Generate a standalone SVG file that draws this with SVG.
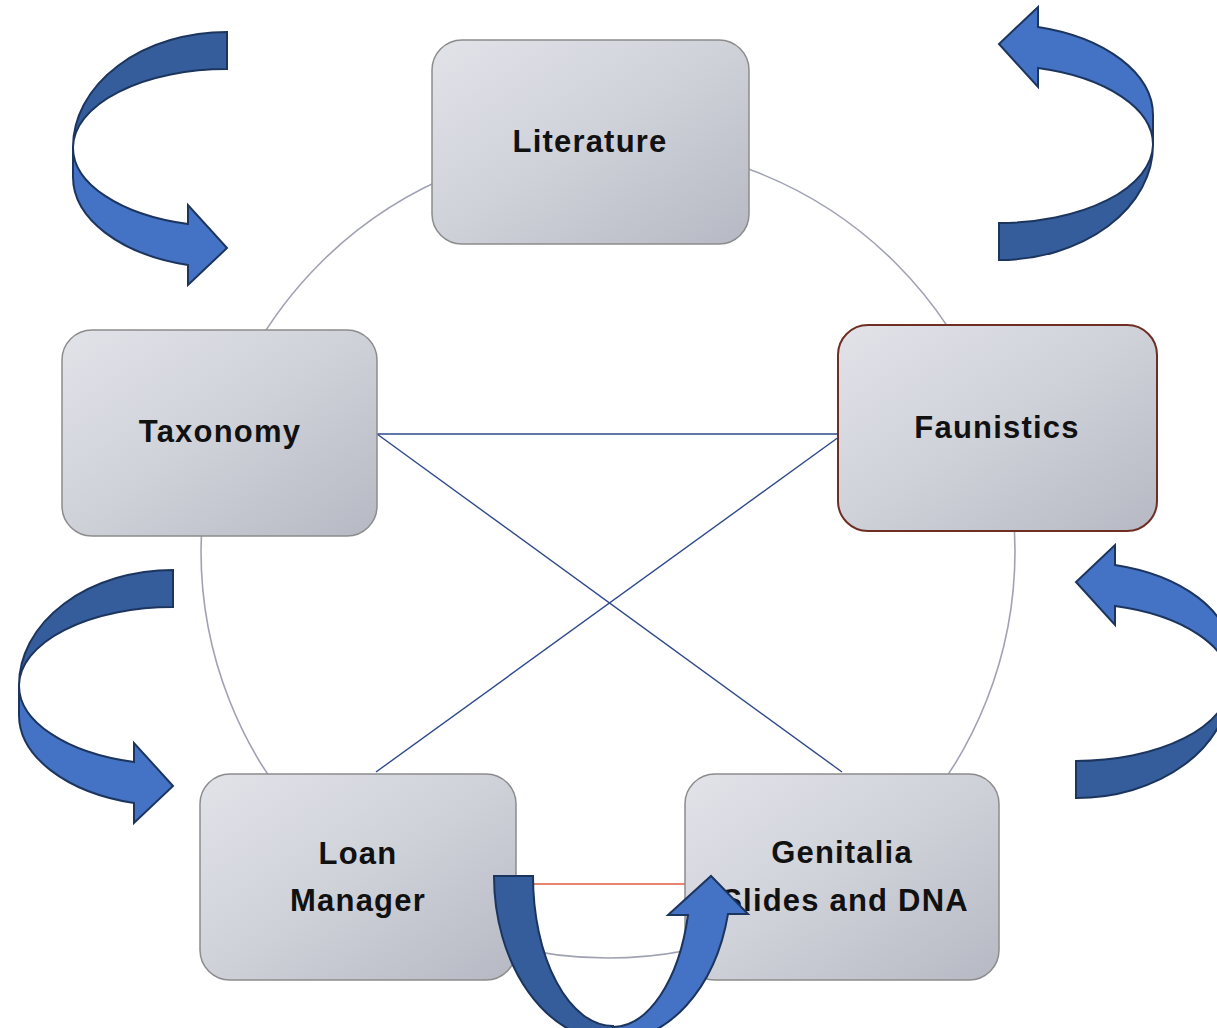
<svg xmlns="http://www.w3.org/2000/svg" xmlns:xlink="http://www.w3.org/1999/xlink" width="1217" height="1028" viewBox="0 0 1217 1028">
<style>
.node rect{fill:url(#ng);stroke:#8c8c8c;stroke-width:1.5}
.node text{font-family:"Liberation Sans",Arial,sans-serif;font-weight:bold;font-size:31px;letter-spacing:1.2px;fill:#111;text-anchor:middle}
.ring{fill:none;stroke:#a0a2b4;stroke-width:1.6}
.cross{stroke:#2f4a8c;stroke-width:1.4}
.red{stroke:#e9826e;stroke-width:2}
.dk{fill:#355d9c;stroke:#1c355e;stroke-width:2;stroke-linejoin:miter}
.lt{fill:#4472c4;stroke:#1c355e;stroke-width:2;stroke-linejoin:miter}
</style>
<defs>
<linearGradient id="ng" x1="0" y1="0" x2="1" y2="1">
<stop offset="0" stop-color="#e2e3e9"/>
<stop offset="0.5" stop-color="#cfd1d9"/>
<stop offset="1" stop-color="#b6b9c3"/>
</linearGradient>
<g id="carrow">
<path class="lt" d="M73,147 A154,79 0 0 0 188,224 L188,205 L227,248 L188,285 L188,265 A154,91 0 0 1 73,177 Z"/>
<path class="dk" d="M227,32 A154,115 0 0 0 73,147 A154,79 0 0 1 227,69 Z"/>
</g>
</defs>
<rect width="1217" height="1028" fill="#fff"/>
<g id="connectors">
<circle class="ring" cx="608" cy="551" r="407"/>
<line class="cross" x1="377" y1="434" x2="843" y2="434"/>
<line class="cross" x1="377" y1="434" x2="842" y2="772"/>
<line class="cross" x1="843" y1="434" x2="376" y2="772"/>
<line class="red" x1="516" y1="884" x2="685" y2="884"/>
</g>
<g id="node-literature" class="node"><rect x="432" y="40" width="317" height="204" rx="30"/><text x="590" y="152">Literature</text></g>
<g id="node-taxonomy" class="node"><rect x="62" y="330" width="315" height="206" rx="30"/><text x="220" y="442">Taxonomy</text></g>
<g id="node-faunistics" class="node"><rect x="838" y="325" width="319" height="206" rx="30" style="stroke:#6e2e24;stroke-width:2"/><text x="997" y="438">Faunistics</text></g>
<g id="node-loan" class="node"><rect x="200" y="774" width="316" height="206" rx="30"/><text x="358" y="864">Loan</text><text x="358" y="911">Manager</text></g>
<g id="node-genitalia" class="node"><rect x="685" y="774" width="314" height="206" rx="30"/><text x="842" y="863">Genitalia</text><text x="845" y="911">Slides and DNA</text></g>
<g id="arrows">
<use xlink:href="#carrow"/>
<use xlink:href="#carrow" transform="rotate(180 613 146)"/>
<use xlink:href="#carrow" transform="translate(-54 538)"/>
<use xlink:href="#carrow" transform="translate(77 538) rotate(180 613 146)"/>
<g id="uarrow">
<path class="lt" d="M613,1027 A78,151 0 0 0 688,915 L668,915 L711,876 L748,914 L728,914 A118,165 0 0 1 613,1041 Z"/>
<path class="dk" d="M494,876 L533,876 A80,150 0 0 0 613,1026 L613,1041 A119,165 0 0 1 494,876 Z"/>
</g>
</g>
</svg>
